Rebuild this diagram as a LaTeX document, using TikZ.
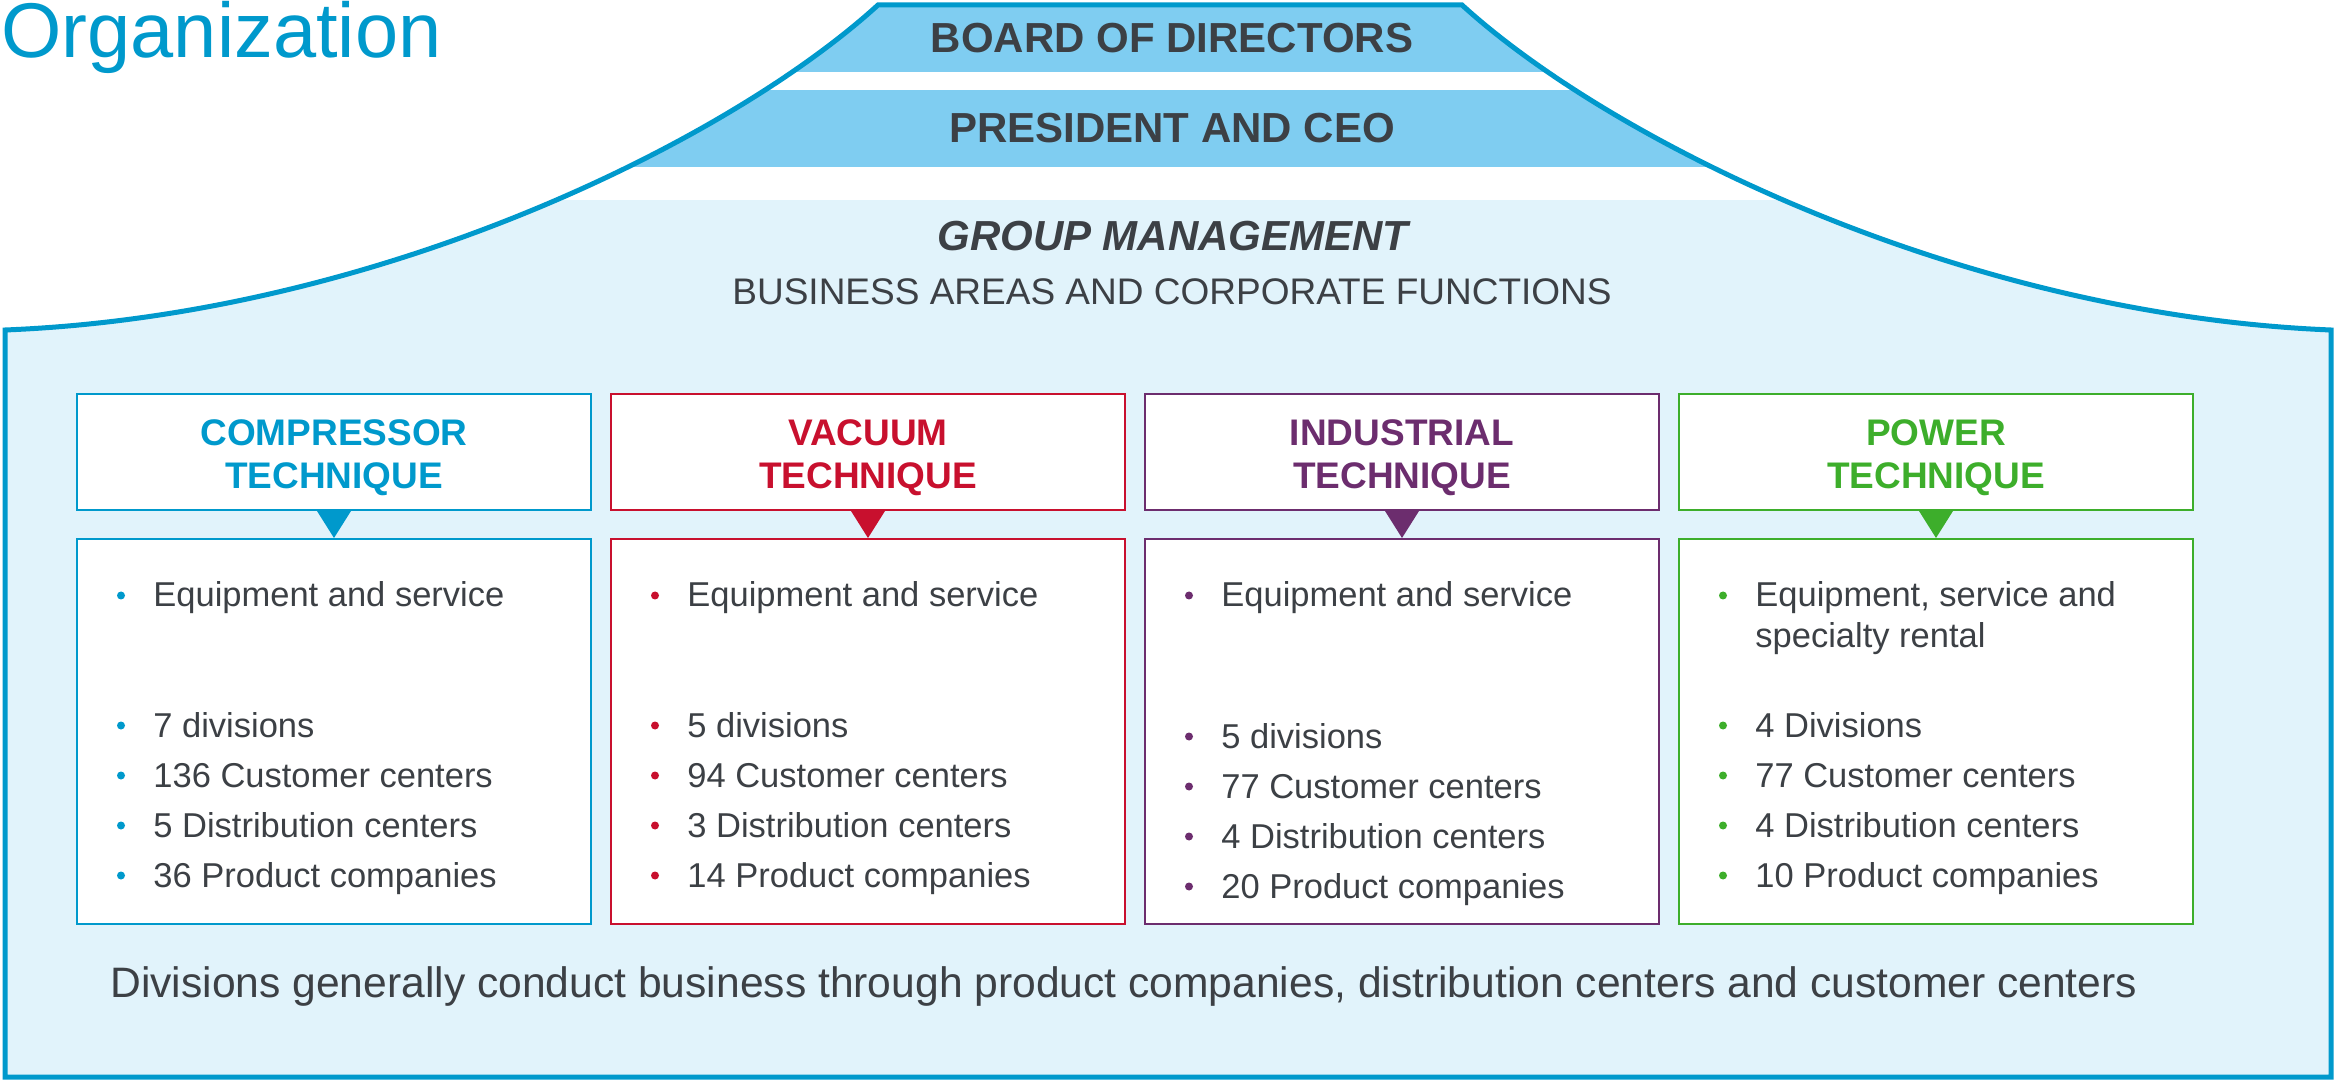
\documentclass[tikz,border=0pt]{standalone}
\usepackage{fontspec}
\setmainfont{Liberation Sans}
\usetikzlibrary{calc}
\definecolor{abl}{RGB}{0,153,204}
\definecolor{band}{RGB}{127,205,241}
\definecolor{light}{RGB}{225,243,251}
\definecolor{tgray}{RGB}{60,64,69}
\definecolor{cC}{RGB}{0,153,204}
\definecolor{cV}{RGB}{200,16,46}
\definecolor{cI}{RGB}{108,45,110}
\definecolor{cP}{RGB}{61,174,43}
\newcommand\bulletline[5]{%
  \fill[#2] (#3+44,#4-11.5) circle (2pt);
  \node[btext] (#1) at (#3+76,#4) {#5};
}
\begin{document}
\begin{tikzpicture}[x=0.5pt,y=-0.5pt,
  hdr/.style={draw=#1, fill=white, line width=1pt, minimum width=257pt, minimum height=58pt, inner sep=0pt},
  hdrtext/.style={text=#1, inner sep=0pt, align=center, font=\bfseries\fontsize{18.5}{21.5}\selectfont},
  bodybox/.style={draw=#1, fill=white, line width=1pt, minimum width=257pt, minimum height=192.5pt, inner sep=0pt},
  btext/.style={text=tgray, inner sep=0pt, font=\fontsize{17.25}{20}\selectfont, anchor=base west},
  bandtext/.style={text=tgray, inner sep=0pt, anchor=base, font=\bfseries\fontsize{21}{24}\selectfont}]
\useasboundingbox (0,0) rectangle (2336,1080);
% outline shape
\coordinate (bl) at (5,1077);
\coordinate (lc) at (5,330);
\coordinate (tl) at (878,5);
\coordinate (tr) at (1462,5);
\coordinate (rc) at (2331,330);
\coordinate (br) at (2331,1077);
\begin{scope}
  \clip (bl) -- (lc) .. controls (380,315) and (730,140) .. (tl) -- (tr) .. controls (1610,140) and (1960,315) .. (rc) -- (br) -- cycle;
  \fill[band] (0,0) rectangle (2336,72);
  \fill[band] (0,90) rectangle (2336,167);
  \fill[light] (0,200) rectangle (2336,1080);
\end{scope}
\draw[abl, line width=2.5pt] (bl) -- (lc) .. controls (380,315) and (730,140) .. (tl) -- (tr) .. controls (1610,140) and (1960,315) .. (rc) -- (br) -- cycle;
% title
\node[text=abl, inner sep=0pt, anchor=base west, font=\fontsize{38.8}{44}\selectfont] (title) at (1,58) {Organization};
% bands
\node[bandtext] (board) at (1172,53) {BOARD OF DIRECTORS};
\node[bandtext] (ceo) at (1172,143) {PRESIDENT AND CEO};
\node[text=tgray, inner sep=0pt, anchor=base, font=\bfseries\itshape\fontsize{21}{24}\selectfont] (gm) at (1173,250.5) {GROUP MANAGEMENT};
\node[text=tgray, inner sep=0pt, anchor=base, font=\fontsize{18.5}{22}\selectfont] (ba) at (1172,305) {BUSINESS AREAS AND CORPORATE FUNCTIONS};
% headers and bodies
\node[hdr=cC] (h1) at (334,452) {};
\node[hdr=cV] (h2) at (868,452) {};
\node[hdr=cI] (h3) at (1402,452) {};
\node[hdr=cP] (h4) at (1936,452) {};
\node[hdrtext=cC] (h1t) at ($(h1)+(0,6)$) {COMPRESSOR\\TECHNIQUE};
\node[hdrtext=cV] (h2t) at ($(h2)+(0,6)$) {VACUUM\\TECHNIQUE};
\node[hdrtext=cI] (h3t) at ($(h3)+(0,6)$) {INDUSTRIAL\\TECHNIQUE};
\node[hdrtext=cP] (h4t) at ($(h4)+(0,6)$) {POWER\\TECHNIQUE};
\node[bodybox=cC] (b1) at (334,731.5) {};
\node[bodybox=cV] (b2) at (868,731.5) {};
\node[bodybox=cI] (b3) at (1402,731.5) {};
\node[bodybox=cP] (b4) at (1936,731.5) {};
\fill[cC] ($(h1.south)+(-17,0)$) -- ($(h1.south)+(17,0)$) -- (b1.north) -- cycle;
\fill[cV] ($(h2.south)+(-17,0)$) -- ($(h2.south)+(17,0)$) -- (b2.north) -- cycle;
\fill[cI] ($(h3.south)+(-17,0)$) -- ($(h3.south)+(17,0)$) -- (b3.north) -- cycle;
\fill[cP] ($(h4.south)+(-17,0)$) -- ($(h4.south)+(17,0)$) -- (b4.north) -- cycle;
% compressor
\bulletline{c1}{cC}{77}{607}{Equipment and service}
\bulletline{c2}{cC}{77}{737}{7 divisions}
\bulletline{c3}{cC}{77}{787}{136 Customer centers}
\bulletline{c4}{cC}{77}{837}{5 Distribution centers}
\bulletline{c5}{cC}{77}{887}{36 Product companies}
% vacuum
\bulletline{v1}{cV}{611}{607}{Equipment and service}
\bulletline{v2}{cV}{611}{737}{5 divisions}
\bulletline{v3}{cV}{611}{787}{94 Customer centers}
\bulletline{v4}{cV}{611}{837}{3 Distribution centers}
\bulletline{v5}{cV}{611}{887}{14 Product companies}
% industrial
\bulletline{i1}{cI}{1145}{607}{Equipment and service}
\bulletline{i2}{cI}{1145}{748}{5 divisions}
\bulletline{i3}{cI}{1145}{798}{77 Customer centers}
\bulletline{i4}{cI}{1145}{848}{4 Distribution centers}
\bulletline{i5}{cI}{1145}{898}{20 Product companies}
% power
\bulletline{p1}{cP}{1679}{607}{Equipment, service and}
\node[btext] (p1b) at (1679+76,647) {specialty rental};
\bulletline{p2}{cP}{1679}{737}{4 Divisions}
\bulletline{p3}{cP}{1679}{787}{77 Customer centers}
\bulletline{p4}{cP}{1679}{837}{4 Distribution centers}
\bulletline{p5}{cP}{1679}{887}{10 Product companies}
% note
\node[text=tgray, inner sep=0pt, anchor=base west, font=\fontsize{21.3}{24}\selectfont] (note) at (110,997) {Divisions generally conduct business through product companies, distribution centers and customer centers};
\end{tikzpicture}
\end{document}
